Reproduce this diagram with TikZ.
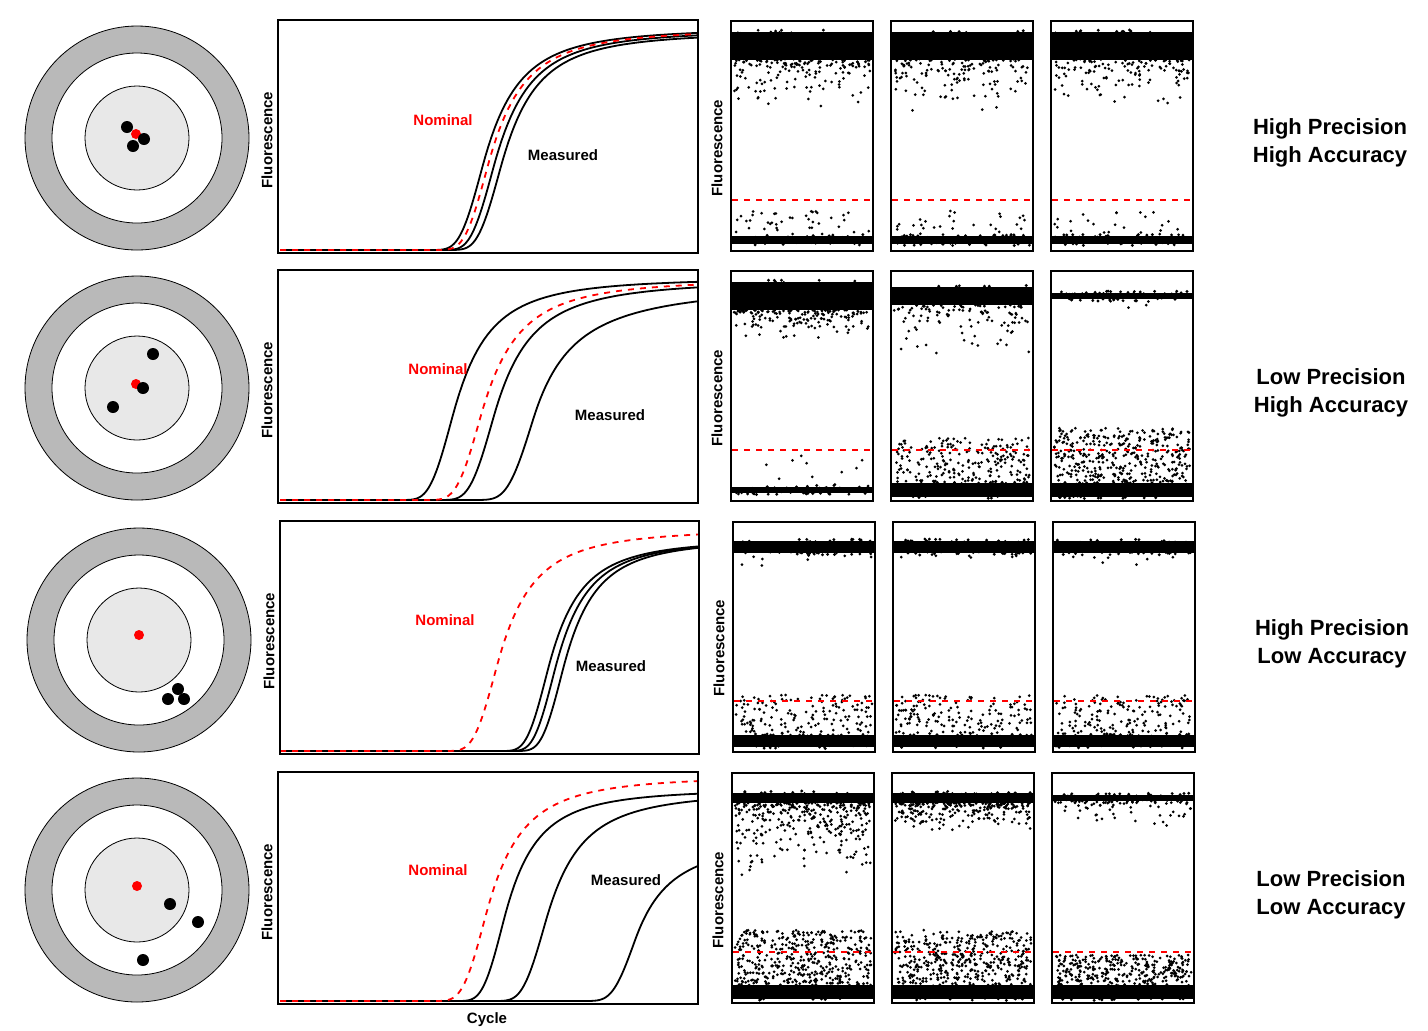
\documentclass[tikz,border=0pt]{standalone}
\usepackage{fontspec}
\setmainfont{Liberation Sans}
\begin{document}
\begin{tikzpicture}[x=0.5pt,y=-0.5pt]
\tikzset{panel/.style = {draw,line width=1.1pt}}
\tikzset{meas/.style = {line width=0.9pt}}
\tikzset{nom/.style = {red,dashed,line width=0.9pt}}
\tikzset{lab/.style = {font=\bfseries\fontsize{7.5}{9}\selectfont}}
\tikzset{side/.style = {font=\bfseries\fontsize{11}{14}\selectfont,align=center}}
\tikzset{dot/.style = {circle,fill,inner sep=0pt,minimum size=6pt}}
\pgfmathsetseed{7}
\useasboundingbox[fill=white] (0,0) rectangle (1428,1030);
% target: centre x, centre y, row name
\newcommand{\target}[3]{%
\node[circle,draw,fill=gray!55,minimum size=112pt,inner sep=0pt] (t#3) at (#1,#2) {};
\node[circle,draw,fill=white,minimum size=85pt,inner sep=0pt] (w#3) at (t#3) {};
\node[circle,draw,fill=gray!18,minimum size=52pt,inner sep=0pt] (g#3) at (t#3) {};}
% curve: x0, s, baseline, top height, style, c
\newcommand{\curve}[6]{%
\draw[#5] (280,#3) -- plot[domain={#1-2.6*#2}:#1,samples=40] (\x,{#3-#4*exp(-exp(-(\x-#1)/#2))})
  -- plot[domain=#1:698,samples=70] (\x,{#3-#4*exp(-exp(-ln(1+#6*(\x-#1))/(#6*#2)))});}
% scatter panel: x, y, top thickness, ntop, spread, nbot, bot spread, bot thickness
\newcommand{\scat}[8]{%
\fill ({#1+1},{#2+25-#3/2}) rectangle ({#1+141},{#2+25+#3/2});
\foreach \i in {1,...,70}{\fill ({#1+3+136*rnd},{#2+25+(#3/2+2)*rand}) circle[radius=0.8pt];}
\foreach \i in {1,...,#4}{\fill ({#1+3+136*rnd},{#2+25+#3/2+#5*rnd*rnd}) circle[radius=0.75pt];}
\fill ({#1+1},{#2+219-#8/2}) rectangle ({#1+141},{#2+219+#8/2});
\foreach \i in {1,...,60}{\fill ({#1+3+136*rnd},{#2+219+(#8/2+1.5)*rand}) circle[radius=0.8pt];}
\foreach \i in {1,...,#6}{\fill ({#1+3+136*rnd},{#2+219-#8/2-#7*rnd}) circle[radius=0.75pt];}
\draw[red,dashed,line width=0.7pt] ({#1+1},{#2+179}) -- ({#1+141},{#2+179});
\draw[panel] (#1,#2) rectangle ++(142,230);}

% row 1
\target{137}{138}{a}
\node[dot,red,minimum size=5pt] (ra) at (136,134) {};
\node[dot] (a1) at (127,127) {};
\node[dot] (a2) at (144,139) {};
\node[dot] (a3) at (133,146) {};
\curve{482}{22}{250}{222}{meas}{0.02}
\curve{493}{22}{250}{220}{meas}{0.02}
\curve{500}{22}{250}{218}{meas}{0.02}
\curve{487}{22}{250}{221}{nom}{0.02}
\draw[panel] (278,20) rectangle (698,253);
\node[lab,rotate=90] (fa) at (267,140) {Fluorescence};
\node[lab,red] (na) at (443,120) {Nominal};
\node[lab] (ma) at (563,155) {Measured};
\scat{731}{21}{28}{140}{55}{40}{25}{8}
\scat{891}{21}{28}{130}{55}{30}{25}{8}
\scat{1051}{21}{28}{120}{60}{25}{25}{8}
\node[lab,rotate=90] (sa) at (717,148) {Fluorescence};
\node[side] (la) at (1330,143) {High Precision\\High Accuracy};

% row 2
\target{137}{388}{b}
\node[dot,red,minimum size=5pt] (rb) at (136,384) {};
\node[dot] (b1) at (153,354) {};
\node[dot] (b2) at (143,388) {};
\node[dot] (b3) at (113,407) {};
\curve{452}{22}{500}{222}{meas}{0.02}
\curve{493}{23}{500}{220}{meas}{0.022}
\curve{533}{25}{500}{218}{meas}{0.03}
\curve{480}{23}{500}{221}{nom}{0.02}
\draw[panel] (278,270) rectangle (698,503);
\node[lab,rotate=90] (fb) at (267,390) {Fluorescence};
\node[lab,red] (nb) at (438,369) {Nominal};
\node[lab] (mb) at (610,415) {Measured};
\scat{731}{271}{28}{150}{30}{10}{35}{6}
\scat{891}{271}{18}{100}{60}{220}{45}{14}
\scat{1051}{271}{6}{6}{15}{380}{55}{14}
\node[lab,rotate=90] (sb) at (717,398) {Fluorescence};
\node[side] (lb) at (1331,393) {Low Precision\\High Accuracy};

% row 3
\target{139}{640}{c}
\node[dot,red,minimum size=5pt] (rc) at (139,635) {};
\node[dot] (c1) at (178,689) {};
\node[dot] (c2) at (168,699) {};
\node[dot] (c3) at (184,699) {};
\curve{547}{20}{751}{212}{meas}{0.022}
\curve{554}{20}{751}{212}{meas}{0.022}
\curve{562}{20}{751}{212}{meas}{0.022}
\curve{496}{22}{751}{222}{nom}{0.02}
\draw[panel] (280,521) rectangle (699,754);
\node[lab,rotate=90] (fc) at (269,641) {Fluorescence};
\node[lab,red] (nc) at (445,620) {Nominal};
\node[lab] (mc) at (611,666) {Measured};
\scat{733}{522}{12}{12}{15}{150}{40}{12}
\scat{893}{522}{12}{12}{15}{150}{40}{12}
\scat{1053}{522}{12}{12}{15}{150}{40}{12}
\node[lab,rotate=90] (sc) at (719,648) {Fluorescence};
\node[side] (lc) at (1332,644) {High Precision\\Low Accuracy};

% row 4
\target{137}{890}{d}
\node[dot,red,minimum size=5pt] (rd) at (137,886) {};
\node[dot] (d1) at (170,904) {};
\node[dot] (d2) at (198,922) {};
\node[dot] (d3) at (143,960) {};
\curve{503}{20}{1001}{212}{meas}{0.022}
\curve{545}{22}{1001}{210}{meas}{0.022}
\curve{635}{22}{1001}{165}{meas}{0.03}
\curve{485}{22}{1001}{225}{nom}{0.02}
\draw[panel] (278,772) rectangle (698,1004);
\node[lab,rotate=90] (fd) at (267,892) {Fluorescence};
\node[lab,red] (nd) at (438,870) {Nominal};
\node[lab] (md) at (626,880) {Measured};
\node[lab] (cy) at (487,1020) {Cycle};
\scat{732}{773}{10}{300}{75}{420}{55}{14}
\scat{892}{773}{10}{200}{30}{420}{55}{14}
\scat{1052}{773}{6}{60}{25}{300}{30}{14}
\node[lab,rotate=90] (sd) at (718,900) {Fluorescence};
\node[side] (ld) at (1331,895) {Low Precision\\Low Accuracy};
\end{tikzpicture}
\end{document}
